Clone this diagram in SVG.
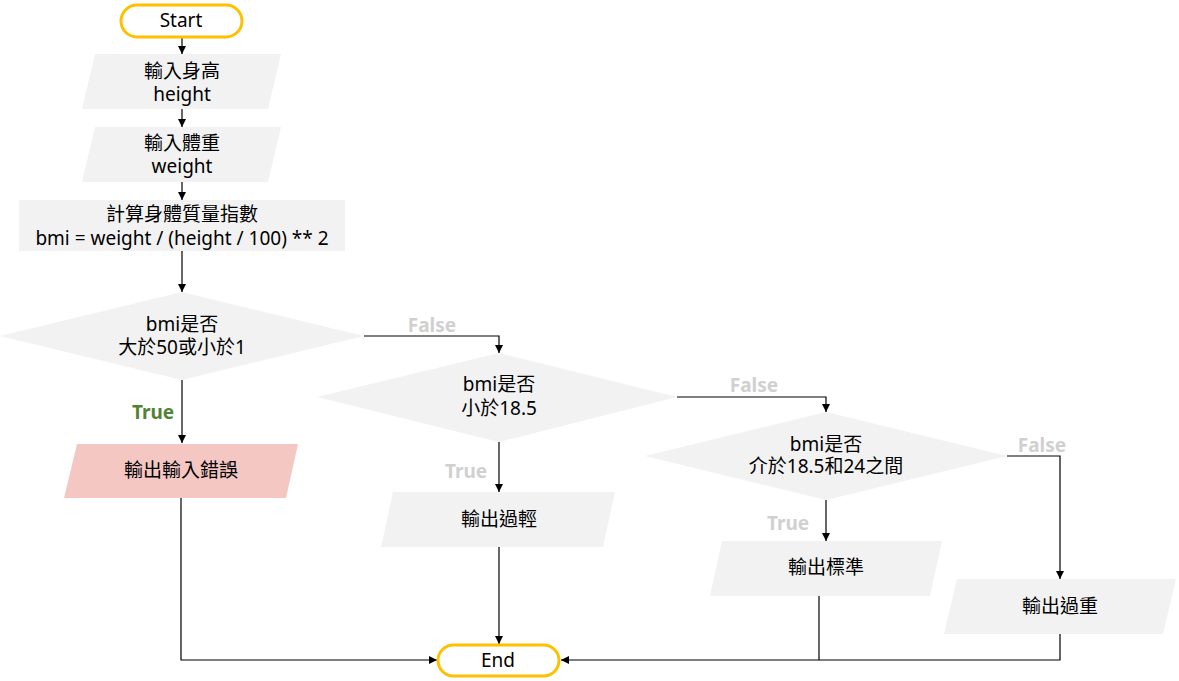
<svg xmlns="http://www.w3.org/2000/svg" width="1179" height="681" viewBox="0 0 1179 681">
  <defs>
    <marker id="arrow" viewBox="0 0 10 10" refX="10" refY="5" markerWidth="8" markerHeight="8" markerUnits="userSpaceOnUse" orient="auto">
      <path d="M0,0 L10,5 L0,10 Z" fill="#000"/>
    </marker>
    <style>
      .shape { fill: #F2F2F2; stroke: none; }
      .error { fill: #F4C7C3; stroke: none; }
      .terminal { fill: #FFFFFF; stroke: #FFC000; stroke-width: 3; }
      .txt { font-family: "Segoe UI", "Noto Sans", "Noto Sans CJK TC", sans-serif; font-size: 19px; fill: #000; text-anchor: middle; }
      .lbl { font-family: "Noto Sans", "Noto Sans CJK TC", sans-serif; font-size: 19px; font-weight: bold; text-anchor: middle; }
      .yes { fill: #548235; }
      .dim { fill: #D0D0D0; }
      .edge { fill: none; stroke: #000; stroke-width: 1.2; }
      .edge-a { fill: none; stroke: #000; stroke-width: 1.2; marker-end: url(#arrow); }
    </style>
  </defs>

  <rect width="1179" height="681" fill="#FFFFFF"/>

  <!-- connectors -->
  <g id="connectors">
    <path class="edge-a" d="M182,38 V54"/>
    <path class="edge-a" d="M182,109 V127"/>
    <path class="edge-a" d="M182,182 V200"/>
    <path class="edge-a" d="M182,251 V292"/>
    <path class="edge-a" d="M182,380 V443"/>
    <path class="edge-a" d="M364,336 H499 V353"/>
    <path class="edge-a" d="M499,442 V492"/>
    <path class="edge-a" d="M677,397 H826 V412"/>
    <path class="edge-a" d="M826,500 V541"/>
    <path class="edge-a" d="M1007,456 H1060 V579"/>
    <path class="edge-a" d="M181,498 V660 H437"/>
    <path class="edge-a" d="M499,547 V644"/>
    <path class="edge" d="M819,596 V660"/>
    <path class="edge-a" d="M1060,634 V660 H561"/>
    <text class="lbl yes" x="153" y="419">True</text>
    <text class="lbl dim" x="432" y="332">False</text>
    <text class="lbl dim" x="466" y="478">True</text>
    <text class="lbl dim" x="754" y="392">False</text>
    <text class="lbl dim" x="788" y="530">True</text>
    <text class="lbl dim" x="1042" y="452">False</text>
  </g>

  <!-- nodes -->
  <g id="start">
    <rect class="terminal" x="121" y="5" width="121" height="32" rx="16"/>
    <text class="txt" x="181" y="27">Start</text>
  </g>

  <g id="input-height">
    <polygon class="shape" points="95,54 281,54 268,109 82,109"/>
    <text class="txt" x="182" y="78">輸入身高</text>
    <text class="txt" x="182" y="101">height</text>
  </g>

  <g id="input-weight">
    <polygon class="shape" points="95,127 281,127 268,182 82,182"/>
    <text class="txt" x="182" y="150">輸入體重</text>
    <text class="txt" x="182" y="173">weight</text>
  </g>

  <g id="compute-bmi">
    <rect class="shape" x="19" y="200" width="326" height="51"/>
    <text class="txt" x="182" y="221">計算身體質量指數</text>
    <text class="txt" x="182" y="245">bmi = weight / (height / 100) ** 2</text>
  </g>

  <g id="check-range">
    <polygon class="shape" points="182,292 364,336 182,380 0,336"/>
    <text class="txt" x="182" y="331">bmi是否</text>
    <text class="txt" x="182" y="354">大於50或小於1</text>
  </g>

  <g id="output-error">
    <polygon class="error" points="77,444 298,444 286,498 64,498"/>
    <text class="txt" x="181" y="477">輸出輸入錯誤</text>
  </g>

  <g id="check-under">
    <polygon class="shape" points="499,353 677,397 499,442 317,397"/>
    <text class="txt" x="499" y="391">bmi是否</text>
    <text class="txt" x="499" y="415">小於18.5</text>
  </g>

  <g id="output-under">
    <polygon class="shape" points="393,492 615,492 603,547 381,547"/>
    <text class="txt" x="499" y="526">輸出過輕</text>
  </g>

  <g id="check-normal">
    <polygon class="shape" points="826,412 1007,456 826,500 645,456"/>
    <text class="txt" x="826" y="451">bmi是否</text>
    <text class="txt" x="826" y="473">介於18.5和24之間</text>
  </g>

  <g id="output-normal">
    <polygon class="shape" points="722,541 942,541 930,596 710,596"/>
    <text class="txt" x="826" y="574">輸出標準</text>
  </g>

  <g id="output-over">
    <polygon class="shape" points="957,579 1176,579 1163,634 944,634"/>
    <text class="txt" x="1060" y="613">輸出過重</text>
  </g>

  <g id="end">
    <rect class="terminal" x="438" y="645" width="121" height="31" rx="15.5"/>
    <text class="txt" x="498" y="667">End</text>
  </g>
</svg>
